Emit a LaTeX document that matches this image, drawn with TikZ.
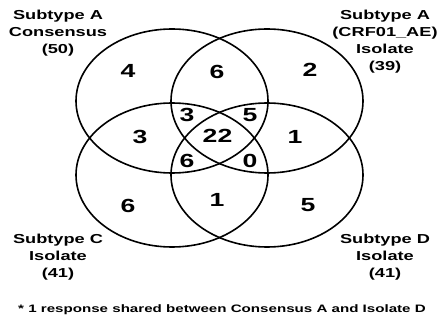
\documentclass[tikz,border=0pt]{standalone}
\usepackage{fontspec}
\setmainfont{Liberation Sans}[FakeStretch=1.4]
\usetikzlibrary{shapes.geometric}
\begin{document}
\begin{tikzpicture}[x=1pt,y=-1pt,
  set/.style={draw, ellipse, line width=1.6pt, minimum width=192pt,
    minimum height=144pt, inner sep=0pt},
  count/.style={font=\bfseries\fontsize{19}{19}\selectfont, inner sep=0pt},
  setlabel/.style={font=\bfseries\fontsize{13}{17.2}\selectfont,
    align=center, anchor=base, inner sep=0pt},
  note/.style={font=\bfseries\fontsize{10.8}{12}\selectfont, anchor=base,
    inner sep=0pt}]
\useasboundingbox (0,0) rectangle (438,320);
\fill[white] (0,0) rectangle (438,320);

% the four sets
\node[set] (consA) at (172,101) {};
\node[set] (crfA)  at (267,101) {};
\node[set] (isoC)  at (172,175) {};
\node[set] (isoD)  at (267,175) {};

% region counts
\node[count] (nA)    at (128,71)    {4};
\node[count] (nAB)   at (217,72)    {6};
\node[count] (nB)    at (310,70)    {2};
\node[count] (nAC)   at (140,136.5) {3};
\node[count] (nABC)  at (187,115)   {3};
\node[count] (nABD)  at (250,115)   {5};
\node[count] (nAll)  at (217.5,136) {22};
\node[count] (nBD)   at (295,136.5) {1};
\node[count] (nACD)  at (187,160.5) {6};
\node[count] (nBCD)  at (250,160.5) {0};
\node[count] (nCD)   at (217,199.5) {1};
\node[count] (nC)    at (128,205.5) {6};
\node[count] (nD)    at (308,205.5) {5};

% set labels (placed by the baseline of their last line)
\node[setlabel] (labA) at (58,53.7)   {Subtype A\\Consensus\\(50)};
\node[setlabel] (labB) at (385,70.9)  {Subtype A\\(CRF01\_AE)\\Isolate\\(39)};
\node[setlabel] (labC) at (58,277.4)  {Subtype C\\Isolate\\(41)};
\node[setlabel] (labD) at (385,277.4) {Subtype D\\Isolate\\(41)};

% footnote
\node[note] (foot) at (222,312) {* 1 response shared between Consensus A and Isolate D};
\end{tikzpicture}
\end{document}
